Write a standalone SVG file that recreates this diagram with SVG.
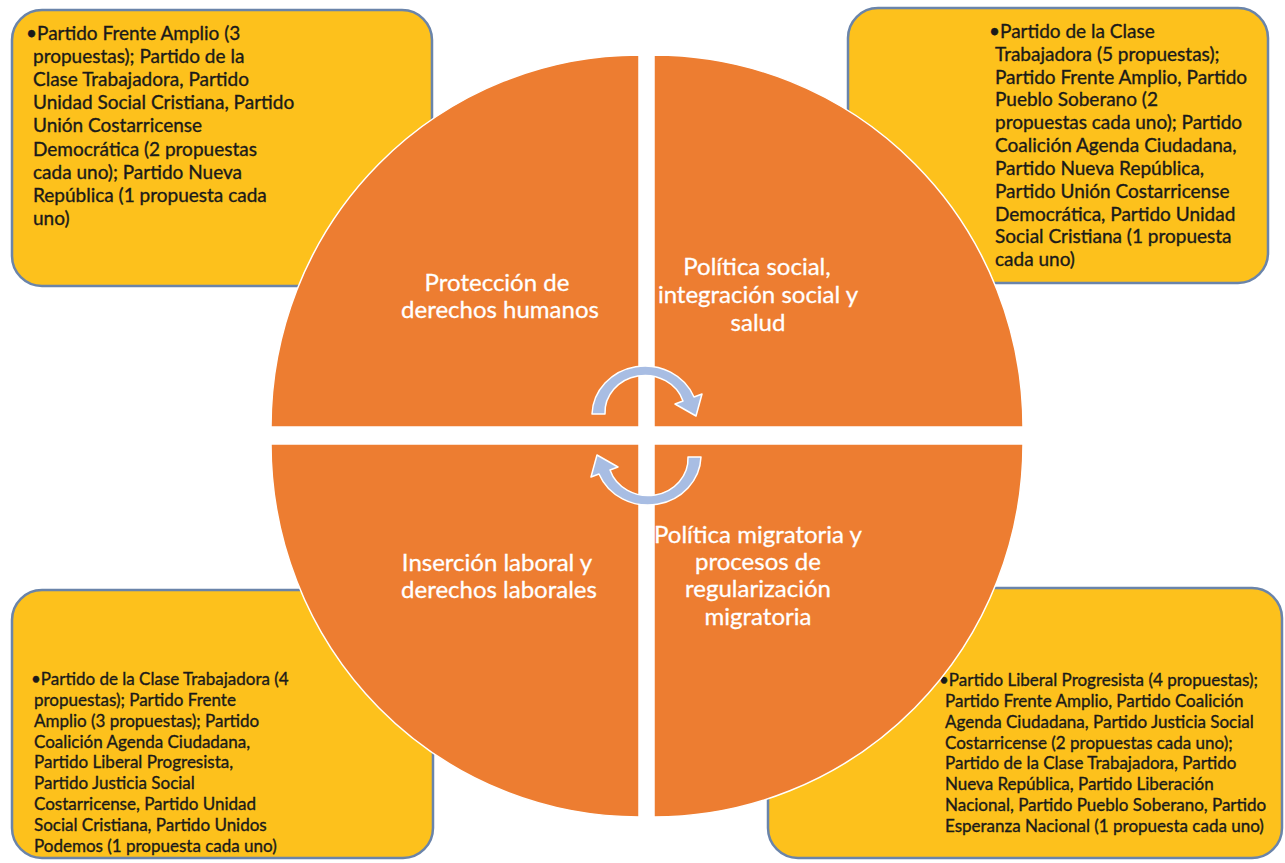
<svg xmlns="http://www.w3.org/2000/svg" width="1285" height="863" viewBox="0 0 1285 863">
<style>
.box{fill:#FDC11C;stroke:#6A84AA;stroke-width:2.5}
.quad{fill:#ED7D31;stroke:#FFFFFF;stroke-width:1.5}
.arrow{fill:#A8BDE3;stroke:#FFFFFF;stroke-width:1.5;stroke-linejoin:round}
.bt{font-family:Lato,"Open Sans",sans-serif;fill:#1a1a1a;stroke:#1a1a1a;stroke-width:0.35}
.b19{font-size:19px}
.b17{font-size:17px}
.qt{font-family:Lato,"Open Sans",sans-serif;font-size:24px;fill:#FFFFFF;stroke:#FFFFFF;stroke-width:0.3;text-anchor:middle}
</style>
<rect width="1285" height="863" fill="#FFFFFF"/>
<g id="box-tl">
<rect class="box" x="12" y="10" width="420" height="276" rx="30"/>
<text class="bt b19"><tspan x="26" y="40">•Partido Frente Amplio (3</tspan><tspan x="33" y="63">propuestas); Partido de la</tspan><tspan x="33" y="86">Clase Trabajadora, Partido</tspan><tspan x="33" y="109">Unidad Social Cristiana, Partido</tspan><tspan x="33" y="132">Unión Costarricense</tspan><tspan x="33" y="156">Democrática (2 propuestas</tspan><tspan x="33" y="179">cada uno); Partido Nueva</tspan><tspan x="33" y="202">República (1 propuesta cada</tspan><tspan x="33" y="225">uno)</tspan></text>
</g>
<g id="box-tr">
<rect class="box" x="848" y="8" width="420" height="275" rx="30"/>
<text class="bt b19"><tspan x="989" y="38">•Partido de la Clase</tspan><tspan x="995" y="61">Trabajadora (5 propuestas);</tspan><tspan x="995" y="84">Partido Frente Amplio, Partido</tspan><tspan x="995" y="106">Pueblo Soberano (2</tspan><tspan x="995" y="129">propuestas cada uno); Partido</tspan><tspan x="995" y="152">Coalición Agenda Ciudadana,</tspan><tspan x="995" y="175">Partido Nueva República,</tspan><tspan x="995" y="198">Partido Unión Costarricense</tspan><tspan x="995" y="221">Democrática, Partido Unidad</tspan><tspan x="995" y="243">Social Cristiana (1 propuesta</tspan><tspan x="995" y="266">cada uno)</tspan></text>
</g>
<g id="box-bl">
<rect class="box" x="12" y="590" width="421" height="268" rx="30"/>
<text class="bt b17"><tspan x="31" y="685">•Partido de la Clase Trabajadora (4</tspan><tspan x="34" y="706">propuestas); Partido Frente</tspan><tspan x="34" y="727">Amplio (3 propuestas); Partido</tspan><tspan x="34" y="748">Coalición Agenda Ciudadana,</tspan><tspan x="34" y="768">Partido Liberal Progresista,</tspan><tspan x="34" y="789">Partido Justicia Social</tspan><tspan x="34" y="810">Costarricense, Partido Unidad</tspan><tspan x="34" y="831">Social Cristiana, Partido Unidos</tspan><tspan x="34" y="852">Podemos (1 propuesta cada uno)</tspan></text>
</g>
<g id="box-br">
<rect class="box" x="768" y="588" width="514" height="270" rx="30"/>
<text class="bt b17"><tspan x="939" y="686">•Partido Liberal Progresista (4 propuestas);</tspan><tspan x="945" y="707">Partido Frente Amplio, Partido Coalición</tspan><tspan x="945" y="728">Agenda Ciudadana, Partido Justicia Social</tspan><tspan x="945" y="749">Costarricense (2 propuestas cada uno);</tspan><tspan x="945" y="769">Partido de la Clase Trabajadora, Partido</tspan><tspan x="945" y="790">Nueva República, Partido Liberación</tspan><tspan x="945" y="811">Nacional, Partido Pueblo Soberano, Partido</tspan><tspan x="945" y="832">Esperanza Nacional (1 propuesta cada uno)</tspan></text>
</g>
<g id="quad-tl">
<path class="quad" d="M639,427 L271,427 A368 372 0 0 1 639,55 Z"/>
<text class="qt"><tspan x="497" y="291">Protección de</tspan><tspan x="500" y="318">derechos humanos</tspan></text>
</g>
<g id="quad-tr">
<path class="quad" d="M654,427 L654,55 A369 372 0 0 1 1023,427 Z"/>
<text class="qt"><tspan x="757" y="275">Política social,</tspan><tspan x="758" y="303">integración social y</tspan><tspan x="758" y="331">salud</tspan></text>
</g>
<g id="quad-bl">
<path class="quad" d="M639,444 L639,817 A368 373 0 0 1 271,444 Z"/>
<text class="qt"><tspan x="497" y="571">Inserción laboral y</tspan><tspan x="499" y="598">derechos laborales</tspan></text>
</g>
<g id="quad-br">
<path class="quad" d="M654,444 L1023,444 A369 373 0 0 1 654,817 Z"/>
<text class="qt"><tspan x="758" y="543">Política migratoria y</tspan><tspan x="758" y="570">procesos de</tspan><tspan x="758" y="597">regularización</tspan><tspan x="758" y="625">migratoria</tspan></text>
</g>
<g id="connectors">
<path class="arrow" d="M592,414 A53 50 0 0 1 694,397 L702,394 L696,416 L675,404 L683,401 A40 37 0 0 0 605,414 Z"/>
<path class="arrow" d="M592,414 A53 50 0 0 1 694,397 L702,394 L696,416 L675,404 L683,401 A40 37 0 0 0 605,414 Z" transform="rotate(180 646.5 435.5)"/>
</g>
</svg>
